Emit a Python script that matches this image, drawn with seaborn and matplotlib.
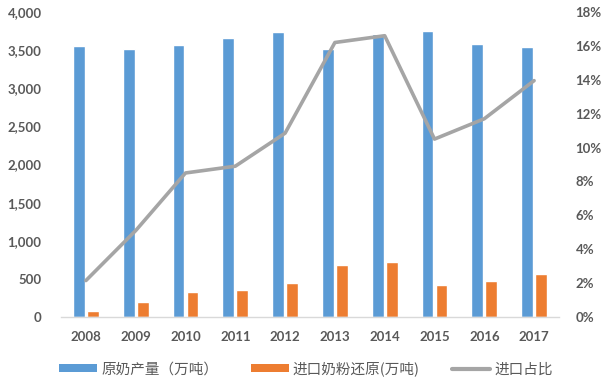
import numpy as np
import pandas as pd
import matplotlib
matplotlib.use("Agg")
import matplotlib.pyplot as plt
from matplotlib.patches import Patch
from matplotlib.lines import Line2D
from matplotlib.ticker import FuncFormatter, MultipleLocator
import seaborn as sns

years = ["2008", "2009", "2010", "2011", "2012", "2013", "2014", "2015", "2016", "2017"]
raw_milk = [3556, 3521, 3573, 3656, 3738, 3521, 3716, 3747, 3586, 3539]
import_powder = [78, 196, 331, 348, 448, 678, 726, 426, 478, 561]
import_ratio = [2.15, 5.1, 8.5, 8.9, 10.85, 16.2, 16.6, 10.5, 11.7, 13.95]

series_names = ["原奶产量（万吨）", "进口奶粉还原(万吨)", "进口占比"]
colors = ["#5B9BD5", "#ED7D31", "#A5A5A5"]
text_color = "#595959"

sns.set_theme(style="white")
plt.rcParams['font.family'] = ['Lato', 'Noto Sans CJK SC', 'DejaVu Sans']

df = pd.DataFrame({
    "year": years * 2,
    "value": raw_milk + import_powder,
    "series": [series_names[0]] * len(years) + [series_names[1]] * len(years),
})

fig = plt.figure(figsize=(6.12, 3.87), dpi=100)
ax = fig.add_axes([61 / 612, 70 / 387, 498 / 612, 305 / 387])

sns.barplot(data=df, x="year", y="value", hue="series", palette=colors[:2],
            width=0.56, gap=0.15, ax=ax, legend=False, saturation=1)
ax.set_xlim(-0.5, len(years) - 0.5)
ax.set_ylim(0, 4000)
ax.yaxis.set_major_locator(MultipleLocator(500))
ax.yaxis.set_major_formatter(FuncFormatter(lambda v, p: f"{int(v):,}"))
ax.set_xlabel("")
ax.set_ylabel("")

ax2 = ax.twinx()
sns.lineplot(x=np.arange(len(years)), y=import_ratio, ax=ax2, color=colors[2],
             linewidth=2.6)
ax2.set_ylim(0, 18)
ax2.yaxis.set_major_locator(MultipleLocator(2))
ax2.yaxis.set_major_formatter(FuncFormatter(lambda v, p: f"{int(v)}%"))
ax2.set_xlim(-0.5, len(years) - 0.5)

for a in (ax, ax2):
    for s in a.spines.values():
        s.set_visible(False)
    a.grid(False)
ax.spines["bottom"].set_visible(True)
ax.spines["bottom"].set_color("#D9D9D9")
ax.spines["bottom"].set_linewidth(1)

ax.tick_params(axis="y", length=0, pad=14, labelsize=9.5, labelcolor=text_color)
ax2.tick_params(axis="y", length=0, pad=12, labelsize=9.5, labelcolor=text_color)
ax.tick_params(axis="x", which="major", length=0, pad=10, labelsize=9.5, labelcolor=text_color)
ax.set_xticks(np.arange(-0.5, len(years), 1.0), minor=True)
ax.tick_params(axis="x", which="minor", length=5, color="#D9D9D9", width=1)
for lbl in ax.get_xticklabels() + ax.get_yticklabels() + ax2.get_yticklabels():
    lbl.set_fontweight("bold")

handles = [
    Patch(facecolor=colors[0], edgecolor="none"),
    Patch(facecolor=colors[1], edgecolor="none"),
    Line2D([0], [0], color=colors[2], linewidth=3),
]
leg = fig.legend(handles, series_names, loc="center", bbox_to_anchor=(0.5, 1 - 369 / 387),
                 ncol=3, frameon=False, handlelength=2.6, handleheight=0.5,
                 handletextpad=0.3, columnspacing=2.2,
                 prop={"family": ["Noto Sans CJK SC", "DejaVu Sans"], "size": 10.5})
for t in leg.get_texts():
    t.set_color(text_color)

fig.savefig("out.png", dpi=100)
